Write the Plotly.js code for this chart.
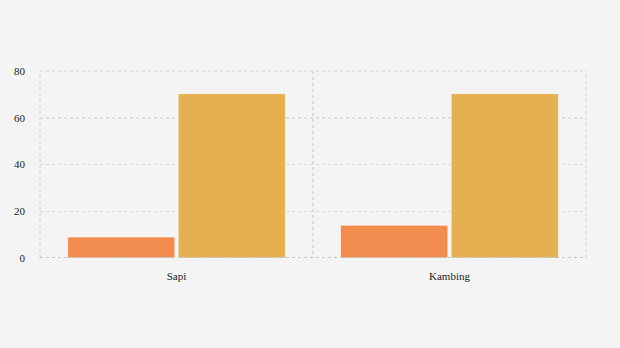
<!DOCTYPE html>
<html>
<head>
<meta charset="utf-8">
<script src="https://cdn.plot.ly/plotly-3.0.1.min.js"></script>
<style>html,body{margin:0;padding:0;background:#f4f4f4;}#chart{width:620px;height:348px;}</style>
</head>
<body>
<div id="chart"></div>
<script>
const categories = ["Sapi", "Kambing"];
const seriesA = [9, 14];
const seriesB = [70.3, 70.3];
const yTicks = [0, 20, 40, 60, 80];

const gridColor = "#dcdcdc";
const gridDash = "3px,3px";

const traces = [
  {type: "bar", name: "A", x: categories, y: seriesA,
   marker: {color: "#F28C4E", line: {color: "rgba(255,255,255,0.6)", width: 1}}, hoverinfo: "none"},
  {type: "bar", name: "B", x: categories, y: seriesB,
   marker: {color: "#E5B04F", line: {color: "rgba(255,255,255,0.6)", width: 1}}, hoverinfo: "none"}
];

const frame = (x0, x1, y0, y1) => ({type: "line", xref: "paper", yref: "paper",
  x0: x0, x1: x1, y0: y0, y1: y1, line: {color: gridColor, width: 1.5, dash: gridDash}, layer: "below"});

const layout = {
  width: 620, height: 348,
  paper_bgcolor: "#f4f4f4", plot_bgcolor: "#f4f4f4",
  margin: {l: 40, r: 34, t: 71, b: 90},
  showlegend: false,
  barmode: "group", bargap: 0.19, bargroupgap: 0.03,
  font: {family: "Liberation Serif, Times New Roman, serif", size: 11, color: "#222"},
  xaxis: {type: "category", range: [-0.5, 1.5], tickson: "boundaries",
          showgrid: true, gridcolor: gridColor, griddash: gridDash, gridwidth: 1.5,
          ticks: "", showline: false, zeroline: false, ticklabelstandoff: 10},
  yaxis: {range: [0, 80], tickvals: yTicks, showgrid: true, gridcolor: gridColor,
          griddash: gridDash, gridwidth: 1.5, zeroline: false, ticks: "", ticklabelstandoff: 14},
  shapes: [
    frame(0, 0, 0, 1), frame(1, 1, 0, 1), frame(0, 1, 1, 1),
    {type: "line", xref: "paper", yref: "y", x0: 0, x1: 1, y0: 0, y1: 0,
     line: {color: "#c4c4c4", width: 2, dash: gridDash}, layer: "above"}
  ]
};

Plotly.newPlot("chart", traces, layout, {displayModeBar: false, staticPlot: true});
</script>
</body>
</html>
